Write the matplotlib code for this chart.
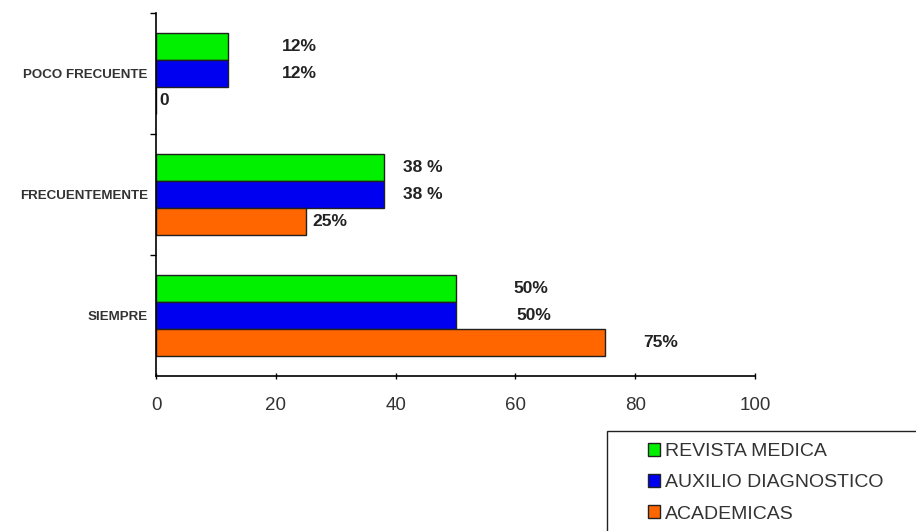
import matplotlib
matplotlib.use("Agg")
import matplotlib.pyplot as plt
from matplotlib.patches import Rectangle
import numpy as np

categories = ["SIEMPRE", "FRECUENTEMENTE", "POCO FRECUENTE"]
series_names = ["REVISTA MEDICA", "AUXILIO DIAGNOSTICO", "ACADEMICAS"]
revista = [50, 38, 12]
auxilio = [50, 38, 12]
academicas = [75, 25, 0]
labels_revista = ["50%", "38 %", "12%"]
labels_auxilio = ["50%", "38 %", "12%"]
labels_academicas = ["75%", "25%", "0"]
label_dx_revista = [12.5, 6.5, 12]
label_dx_auxilio = [13, 6.5, 12]
label_dx_academicas = [9.3, 4, 1.3]
xticks = [0, 20, 40, 60, 80, 100]

colors = ["#00F000", "#0000F0", "#FF6600"]

plt.rcParams['font.family'] = ['Liberation Sans', 'DejaVu Sans']

fig = plt.figure(figsize=(9.16, 5.31), dpi=100)
ax = fig.add_axes([156/916, 1-376/531, (755-156)/916, (376-13)/531])

y = np.arange(len(categories))
h = 0.223
series = [revista, auxilio, academicas]
labels = [labels_revista, labels_auxilio, labels_academicas]
dxs = [label_dx_revista, label_dx_auxilio, label_dx_academicas]
offsets = [h, 0, -h]
for vals, col, off, labs, dx in zip(series, colors, offsets, labels, dxs):
    ax.barh(y + off, vals, height=h, color=col, edgecolor="#202020", linewidth=1.0)
    for yi, v, lab, d in zip(y, vals, labs, dx):
        ax.text(v + d, yi + off, lab, ha="center", va="center",
                fontsize=12.5, fontweight="bold", color="#222222")

ax.set_xlim(0, 100)
ax.set_ylim(-0.5, 2.5)
ax.set_xticks(xticks)
ax.set_xticklabels([str(t) for t in xticks], fontsize=13.5, color="#333333")
ax.set_yticks(y)
ax.set_yticklabels(categories, fontsize=9.6, fontweight="bold", color="#333333")
ax.set_yticks([0.5, 1.5, 2.5], minor=True)
ax.tick_params(axis="y", which="major", length=0, pad=6)
ax.tick_params(axis="y", which="minor", length=4, width=1, direction="out")
ax.tick_params(axis="x", which="major", length=4, width=1, direction="inout", pad=13)
for s in ["top", "right"]:
    ax.spines[s].set_visible(False)
ax.spines["left"].set_linewidth(1.2)
ax.spines["bottom"].set_linewidth(1.2)

# Legend box
fig.patches.append(Rectangle((607/916, -0.05), 0.5, (531-431)/531 + 0.05,
                             transform=fig.transFigure, facecolor="white",
                             edgecolor="#222222", linewidth=1.0))
handles = [Rectangle((0, 0), 1, 1, facecolor=c, edgecolor="#222222", linewidth=1.0) for c in colors]
leg = fig.legend(handles, series_names, loc="upper left",
                 bbox_to_anchor=(638/916, 1-433/531), frameon=False,
                 fontsize=14, handlelength=0.65, handleheight=0.65,
                 handletextpad=0.25, labelspacing=0.72, borderpad=0)
for t in leg.get_texts():
    t.set_color("#333333")

fig.savefig("out.png", dpi=100)
